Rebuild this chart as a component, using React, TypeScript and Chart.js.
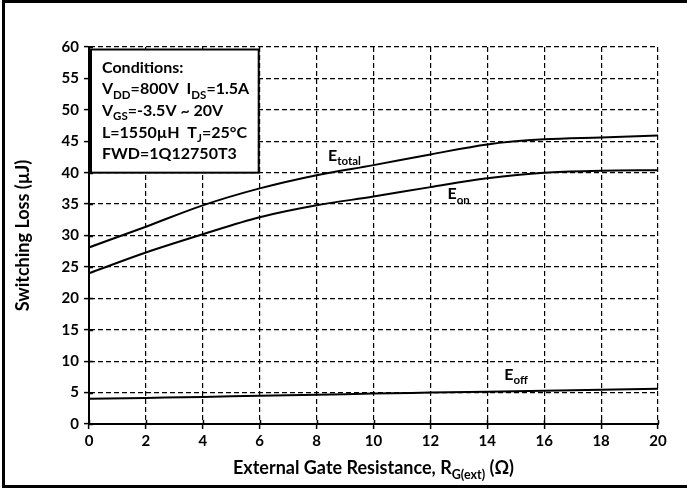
import React, { useEffect, useRef } from "react";
import { Chart, registerables } from "chart.js";

Chart.register(...registerables);

const rg = [0, 2, 4, 6, 8, 10, 12, 14, 16, 18, 20];
const eTotal = [28.1, 31.4, 34.8, 37.5, 39.6, 41.2, 42.9, 44.5, 45.3, 45.6, 45.9];
const eOn = [24.0, 27.3, 30.2, 32.9, 34.8, 36.2, 37.7, 39.1, 40.0, 40.3, 40.4];
const eOff = [4.0, 4.15, 4.3, 4.5, 4.65, 4.85, 5.0, 5.15, 5.3, 5.45, 5.6];

const seriesNames = ["total", "on", "off"];
const curveLabelX = [8.4, 12.6, 14.6];
const curveLabelY = [41.9, 35.8, 7.0];

const xTitleParts: [string, boolean][] = [
  ["External Gate Resistance, R", false],
  ["G(ext)", true],
  [" (Ω)", false],
];
const yTitle = "Switching Loss (µJ)";

const conditionLines: [string, boolean][][] = [
  [["Conditions:", false]],
  [["V", false], ["DD", true], ["=800V  I", false], ["DS", true], ["=1.5A", false]],
  [["V", false], ["GS", true], ["=-3.5V ~ 20V", false]],
  [["L=1550µH  T", false], ["J", true], ["=25°C", false]],
  [["FWD=1Q12750T3", false]],
];
const boxX = [0, 6];
const boxY = [40, 60];

const FONT = "Lato, 'Open Sans', sans-serif";

function drawRich(
  ctx: CanvasRenderingContext2D,
  parts: [string, boolean][],
  x: number,
  y: number,
  size: number,
  subSize: number,
  align: "left" | "center"
) {
  let total = 0;
  for (const [t, sub] of parts) {
    ctx.font = `bold ${sub ? subSize : size}px ${FONT}`;
    total += ctx.measureText(t).width;
  }
  let cx = align === "center" ? x - total / 2 : x;
  ctx.textAlign = "left";
  ctx.textBaseline = "alphabetic";
  for (const [t, sub] of parts) {
    ctx.font = `bold ${sub ? subSize : size}px ${FONT}`;
    ctx.fillText(t, cx, sub ? y + size * 0.28 : y);
    cx += ctx.measureText(t).width;
  }
}

const overlay = {
  id: "overlay",
  afterDraw(chart: any) {
    const ctx: CanvasRenderingContext2D = chart.ctx;
    const xs = chart.scales.x;
    const ys = chart.scales.y;
    const area = chart.chartArea;
    ctx.save();
    ctx.fillStyle = "#000";
    ctx.strokeStyle = "#000";
    ctx.setLineDash([]);

    // solid axis lines
    ctx.lineWidth = 2;
    ctx.beginPath();
    ctx.moveTo(area.left, area.top - 1);
    ctx.lineTo(area.left, area.bottom);
    ctx.lineTo(area.right + 1, area.bottom);
    ctx.stroke();

    // inward tick marks
    ctx.lineWidth = 1.5;
    ctx.beginPath();
    for (const v of ys.ticks) {
      const py = Math.round(ys.getPixelForValue(v.value)) + 0.5;
      ctx.moveTo(area.left, py);
      ctx.lineTo(area.left + 4, py);
    }
    for (const v of xs.ticks) {
      const px = Math.round(xs.getPixelForValue(v.value)) + 0.5;
      ctx.moveTo(px, area.bottom);
      ctx.lineTo(px, area.bottom - 4);
    }
    ctx.stroke();

    // conditions box
    const bx0 = xs.getPixelForValue(boxX[0]) + 2;
    const bx1 = xs.getPixelForValue(boxX[1]) - 1;
    const by0 = ys.getPixelForValue(boxY[1]) + 2.5;
    const by1 = ys.getPixelForValue(boxY[0]);
    ctx.fillStyle = "#fff";
    ctx.fillRect(bx0, by0, bx1 - bx0, by1 - by0);
    ctx.lineWidth = 2;
    ctx.strokeRect(bx0, by0, bx1 - bx0, by1 - by0);
    ctx.fillStyle = "#000";
    conditionLines.forEach((line, i) => {
      drawRich(ctx, line, bx0 + 11, by0 + 23 + i * 21.7, 16, 11.5, "left");
    });

    // curve labels
    seriesNames.forEach((n, i) => {
      const px = xs.getPixelForValue(curveLabelX[i]);
      const py = ys.getPixelForValue(curveLabelY[i]);
      drawRich(ctx, [["E", false], [n, true]], px, py, 16, 11.5, "left");
    });

    // x title
    const cx = (area.left + area.right) / 2;
    drawRich(ctx, xTitleParts, cx, area.bottom + 50, 18, 12.5, "center");
    ctx.restore();
  },
};

export default function App() {
  const ref = useRef<HTMLCanvasElement>(null);
  useEffect(() => {
    document.body.style.margin = "0";
    const grid = {
      color: "#000",
      lineWidth: 1.2,
      tickColor: "#000",
      tickWidth: 1.5,
      tickLength: 5,
      tickBorderDash: [],
    };
    const border = { color: "#000", width: 2, dash: [5, 3] };
    const chart = new Chart(ref.current as HTMLCanvasElement, {
      type: "line",
      data: {
        datasets: [
          { data: rg.map((x, i) => ({ x, y: eTotal[i] })) },
          { data: rg.map((x, i) => ({ x, y: eOn[i] })) },
          { data: rg.map((x, i) => ({ x, y: eOff[i] })) },
        ].map((d) => ({
          ...d,
          borderColor: "#000",
          borderWidth: 2,
          pointRadius: 0,
          fill: false,
          cubicInterpolationMode: "monotone" as const,
        })),
      },
      options: {
        animation: false,
        responsive: false,
        maintainAspectRatio: false,
        layout: { padding: { top: 47, right: 29, left: 0, bottom: 0 } },
        plugins: { legend: { display: false }, tooltip: { enabled: false } },
        scales: {
          x: {
            type: "linear",
            min: 0,
            max: 20,
            ticks: {
              stepSize: 2,
              color: "#000",
              font: { family: FONT, size: 15, weight: "bold" },
              padding: 3,
              maxRotation: 0,
            },
            grid,
            border,
            afterFit: (s: any) => {
              s.height = 64;
            },
          },
          y: {
            min: 0,
            max: 60,
            ticks: {
              stepSize: 5,
              color: "#000",
              font: { family: FONT, size: 15, weight: "bold" },
              padding: 5,
            },
            grid,
            border,
            title: {
              display: true,
              text: yTitle,
              color: "#000",
              font: { family: FONT, size: 18, weight: "bold" },
              padding: { top: 12, bottom: 6 },
            },
            afterFit: (s: any) => {
              s.width = 89;
            },
          },
        },
      },
      plugins: [overlay],
    });
    return () => chart.destroy();
  }, []);
  return (
    <div style={{ position: "relative", width: 687, height: 488 }}>
      <canvas ref={ref} width={687} height={488} style={{ display: "block" }} />
      <div
        style={{
          position: "absolute",
          left: 2,
          top: 0,
          width: 685,
          height: 488,
          border: "3px solid #000",
          borderRight: "none",
          boxSizing: "border-box",
          pointerEvents: "none",
        }}
      />
    </div>
  );
}
